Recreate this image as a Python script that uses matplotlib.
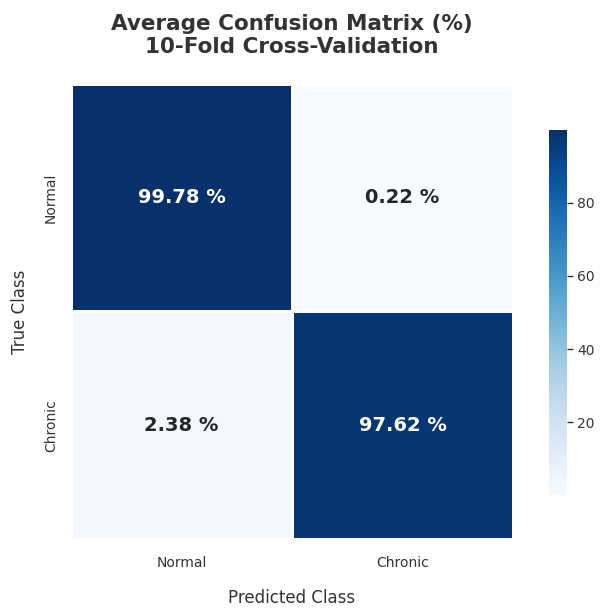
import numpy as np
import matplotlib
matplotlib.use("Agg")
import matplotlib.pyplot as plt
import seaborn as sns

classes = ["Normal", "Chronic"]
cm_pct = np.array([[99.78, 0.22],
                   [2.38, 97.62]])
annot_txt = [["99.78 %", "0.22 %"],
             ["2.38 %", "97.62 %"]]

sns.set_theme(style="white")
plt.rcParams['font.family'] = ['DejaVu Sans']

fig = plt.figure(figsize=(6.11, 6.08), dpi=100)
ax = fig.add_axes([0.1162, 0.1135, 0.7234, 0.7484])
cax = fig.add_axes([0.8985, 0.1859, 0.0295, 0.6003])

sns.heatmap(cm_pct, annot=np.array(annot_txt), fmt="", cmap="Blues",
            xticklabels=classes, yticklabels=classes,
            linewidths=2, linecolor="white",
            annot_kws={"size": 14, "weight": "bold"},
            ax=ax, cbar_ax=cax)

cax.tick_params(labelsize=10, length=4, width=1, colors=".2")
cax.yaxis.set_tick_params(left=False, right=True)
for s in cax.spines.values():
    s.set_visible(False)

ax.set_title("Average Confusion Matrix (%)\n10-Fold Cross-Validation",
             fontsize=15.5, fontweight="bold", pad=22, color=".2")
ax.set_xlabel("Predicted Class", fontsize=12, labelpad=14, color=".2")
ax.set_ylabel("True Class", fontsize=12, labelpad=11, color=".2")
ax.tick_params(axis="x", labelsize=10, pad=6, colors=".2")
ax.tick_params(axis="y", labelsize=10, colors=".2")
plt.setp(ax.get_yticklabels(), rotation=90, va="center")
plt.setp(ax.get_xticklabels(), rotation=0)

fig.savefig("out.png", dpi=100)
